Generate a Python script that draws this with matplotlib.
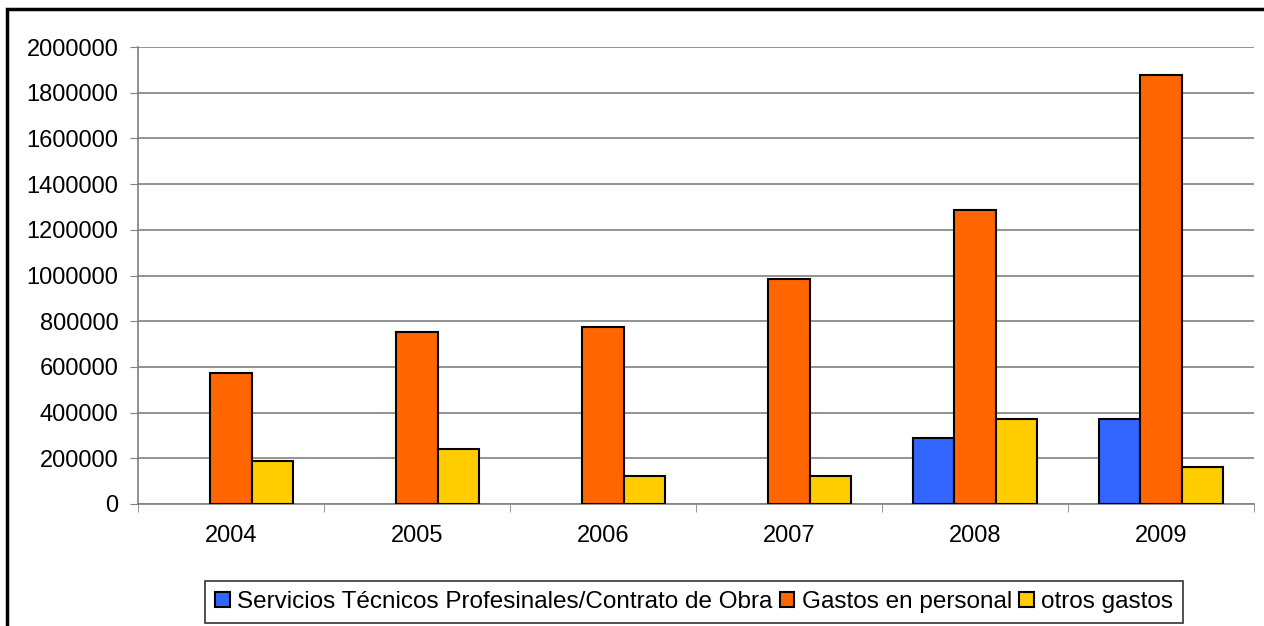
import matplotlib
matplotlib.use("Agg")
import matplotlib.pyplot as plt
from matplotlib.patches import Rectangle
from matplotlib.ticker import FuncFormatter
import numpy as np

plt.rcParams['font.family'] = ['Liberation Sans', 'DejaVu Sans']

years = ['2004', '2005', '2006', '2007', '2008', '2009']
servicios = [0, 0, 0, 0, 290000, 371000]
personal = [573000, 753000, 775000, 985000, 1287000, 1877000]
otros = [186000, 242000, 122000, 122000, 371000, 162000]
series_names = ['Servicios Técnicos Profesinales/Contrato de Obra',
                'Gastos en personal', 'otros gastos']
colors = ['#3366FF', '#FF6600', '#FFCC00']

fig = plt.figure(figsize=(12.64, 6.26), dpi=100)
ax = fig.add_axes([138 / 1264, 1 - 504 / 626, 1116 / 1264, 457 / 626])

x = np.arange(len(years))
w = 1 / 4.5
for i, (vals, col, name) in enumerate(zip([servicios, personal, otros], colors, series_names)):
    vals = np.array(vals, dtype=float)
    shown = vals > 0  # empty years get no bar outline
    ax.bar(x[shown] + (i - 1) * w, vals[shown], width=w, color=col,
           edgecolor='black', linewidth=1.5, label=name, zorder=3)

ax.set_xlim(-0.5, len(years) - 0.5)
ax.set_ylim(0, 2000000)
ax.set_yticks(np.arange(0, 2000001, 200000))
ax.yaxis.set_major_formatter(FuncFormatter(lambda v, p: f'{v:.0f}'))
ax.yaxis.grid(True, color='#808080', linewidth=1.2, zorder=0)
ax.tick_params(axis='y', direction='out', length=6, color='#808080',
               labelsize=17, pad=8)

ax.set_xticks(x)
ax.set_xticklabels(years)
ax.set_xticks(np.arange(-0.5, len(years)), minor=True)
ax.tick_params(axis='x', which='major', length=0, labelsize=17, pad=15)
ax.tick_params(axis='x', which='minor', length=6, color='#808080', direction='out')

for side in ['top', 'right']:
    ax.spines[side].set_visible(False)
for side in ['left', 'bottom']:
    ax.spines[side].set_color('#808080')
    ax.spines[side].set_linewidth(1.2)

leg = fig.legend(loc='center', bbox_to_anchor=(694 / 1264, 1 - 602 / 626), ncol=3,
                 fontsize=17.5, frameon=True, fancybox=False, handlelength=0.6,
                 handleheight=0.6, handletextpad=0.3, columnspacing=0.3,
                 borderpad=0.4, borderaxespad=0)
leg.get_frame().set_edgecolor('black')
leg.get_frame().set_linewidth(1.2)

# outer chart border
fig.patches.append(Rectangle((7 / 1264, -0.05), 1.1, 1 - 9 / 626 + 0.05,
                             transform=fig.transFigure, fill=False,
                             edgecolor='black', linewidth=2.5))

fig.savefig('out.png', dpi=100, facecolor='white')
